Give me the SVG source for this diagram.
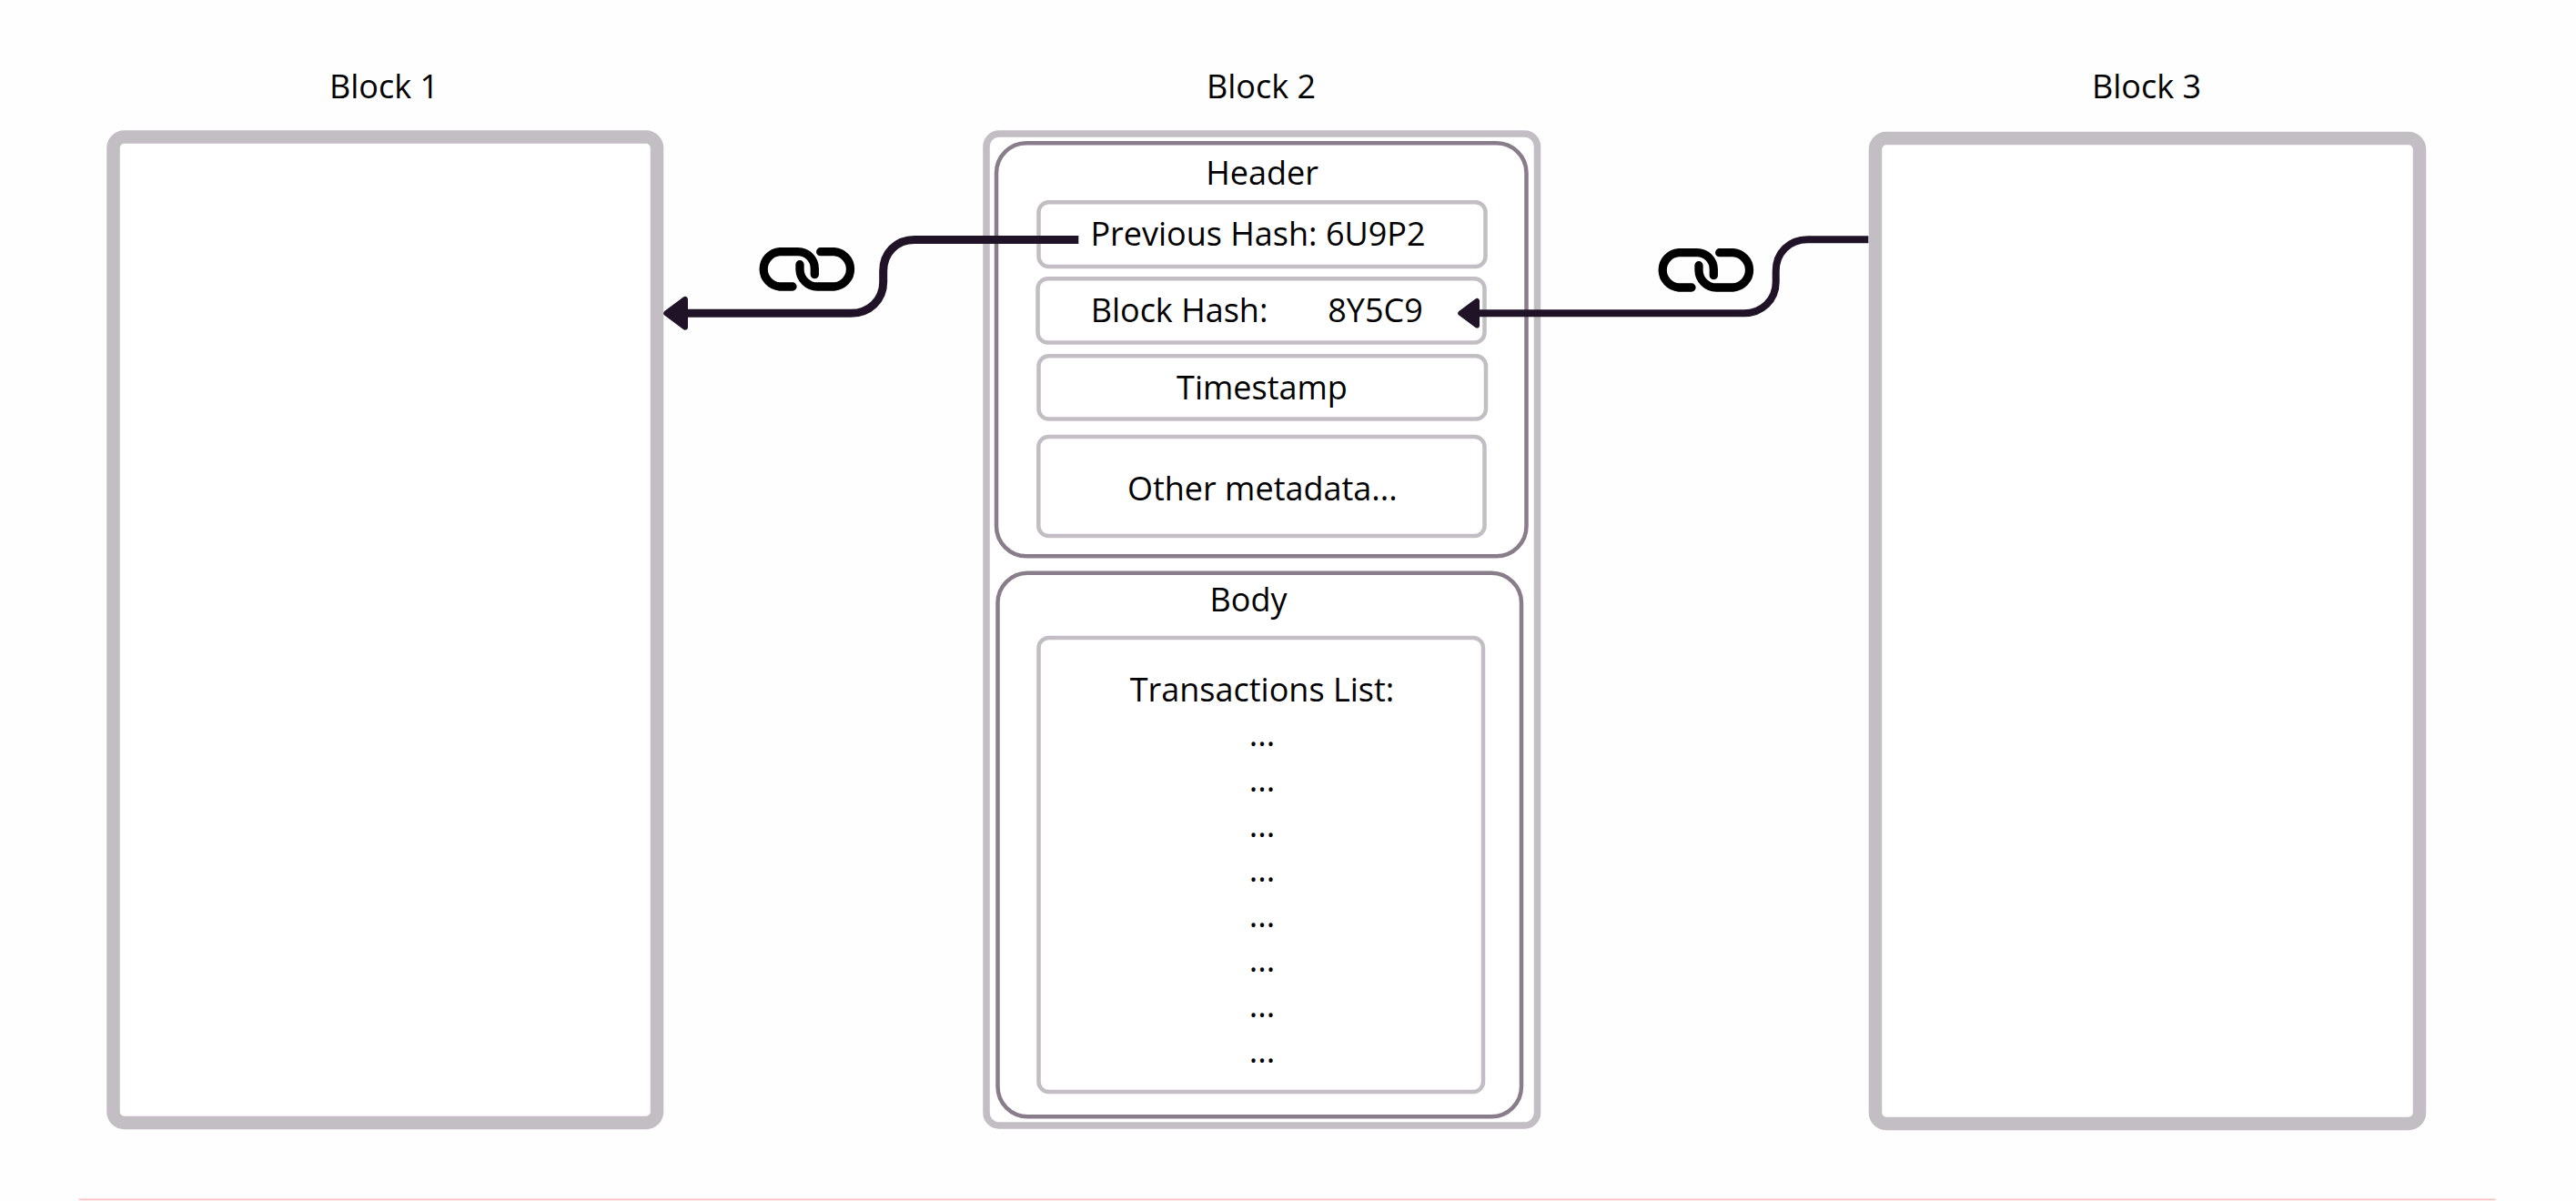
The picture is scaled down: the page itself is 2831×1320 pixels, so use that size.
<svg xmlns="http://www.w3.org/2000/svg" width="2831" height="1320" viewBox="0 0 2831 1320">
<style>
text{font-family:"Open Sans","Noto Sans","Liberation Sans",sans-serif;font-size:36px;fill:#000;text-anchor:middle}
.block{fill:#fff;stroke:#c3bdc4;stroke-width:14.5}
.outer{fill:#fff;stroke:#c3bdc4;stroke-width:7.5}
.section{fill:#fff;stroke:#8a7d8b;stroke-width:4.5}
.field{fill:#fff;stroke:#c3bdc4;stroke-width:4.5}
.conn{fill:none;stroke:#201327;marker-end:url(#arrow)}
.link{fill:none;stroke:#000;stroke-width:9.3;stroke-linecap:round}
</style>
<defs>
<marker id="arrow" markerUnits="strokeWidth" viewBox="-0.5 -2.5 4 5" markerWidth="4" markerHeight="5" refX="0" refY="0" orient="auto">
<path d="M0.35 -1.69 L2.62 0 L0.35 1.69 Z" fill="#201327" stroke="#201327" stroke-width="0.7" stroke-linejoin="round"/>
</marker>
<g id="chain">
<path d="M871 315 H857 a19.2 19.2 0 0 1 0 -38.3 H877 a18.3 18.3 0 0 1 18.3 18.3 v6.7"/>
<path d="M901.7 276.7 H916.7 a19.2 19.2 0 0 1 0 38.3 H898.3 a19.3 19.3 0 0 1 -19.3 -19 v-5.3"/>
</g>
</defs>
<rect width="2831" height="1320" fill="#fefefe"/>
<g id="block1">
<rect class="block" x="124.5" y="150.5" width="597.5" height="1083.5" rx="12"/>
<text x="422" y="108">Block 1</text>
</g>
<g id="block3">
<rect class="block" x="2061" y="152" width="598" height="1083" rx="12"/>
<text x="2359" y="108">Block 3</text>
</g>
<g id="block2">
<rect class="outer" x="1084" y="147" width="605.5" height="1090" rx="14"/>
<text x="1386" y="108">Block 2</text>
</g>
<g id="header">
<rect class="section" x="1095" y="157.3" width="582.5" height="454" rx="33"/>
<text x="1387" y="203">Header</text>
</g>
<g id="prev-hash">
<rect class="field" x="1141.5" y="222.3" width="491" height="70.7" rx="11"/>
<text x="1382.5" y="270">Previous Hash: 6U9P2</text>
</g>
<g id="block-hash">
<rect class="field" x="1140.5" y="306.3" width="491" height="70.2" rx="11"/>
<text x="1296" y="354">Block Hash:</text>
<text x="1511.5" y="354">8Y5C9</text>
</g>
<g id="timestamp">
<rect class="field" x="1141.5" y="391.3" width="491.5" height="69.2" rx="11"/>
<text x="1387" y="439">Timestamp</text>
</g>
<g id="other">
<rect class="field" x="1141.3" y="480" width="490.2" height="109" rx="11"/>
<text x="1387.3" y="550">Other metadata...</text>
</g>
<g id="body">
<rect class="section" x="1096.5" y="629.7" width="575.5" height="597.6" rx="33"/>
<text x="1372" y="672">Body</text>
</g>
<g id="transactions">
<rect class="field" x="1141.5" y="701" width="488.5" height="499" rx="11"/>
<text x="1387" y="771">Transactions List:</text>
<text x="1387" y="820.3">...</text>
<text x="1387" y="869.9">...</text>
<text x="1387" y="919.5">...</text>
<text x="1387" y="969.1">...</text>
<text x="1387" y="1018.7">...</text>
<text x="1387" y="1068.3">...</text>
<text x="1387" y="1117.9">...</text>
<text x="1387" y="1167.5">...</text>
</g>
<g id="connectors">
<path class="conn" stroke-width="9" d="M1185.3 263.5 H1005 C985 263.5 970.7 278 970.7 298 V310 C970.7 330 955 344.3 935 344.3 H756"/>
<path class="conn" stroke-width="8" d="M2053.3 263.3 H1986.7 C1966 263.3 1951.7 278 1951.7 298 V310 C1951.7 330 1936 344.3 1916.7 344.3 H1626"/>
<use href="#chain" class="link"/>
<use href="#chain" class="link" x="988" y="1"/>
</g>
<line id="rule" x1="86.7" y1="1318.4" x2="2742.7" y2="1318.4" stroke="#ffbfc2" stroke-width="1.6"/>
</svg>
